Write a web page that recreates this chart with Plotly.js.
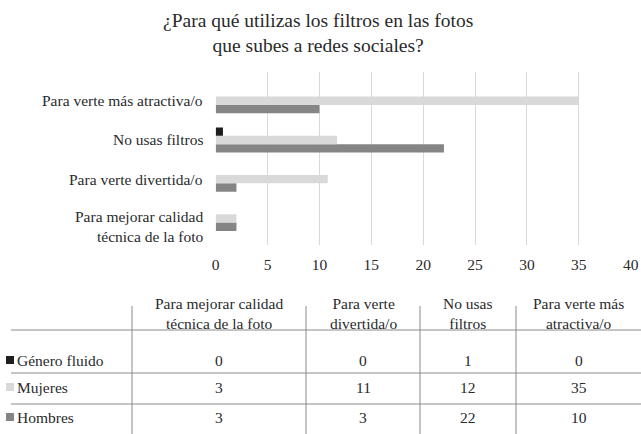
<!DOCTYPE html>
<html>
<head>
<meta charset="utf-8">
<script src="https://cdn.plot.ly/plotly-3.0.1.min.js"></script>
<style>html,body{margin:0;padding:0;background:#fff;}#chart{width:641px;height:434px;}</style>
</head>
<body>
<div id="chart"></div>
<script>
// ---- data ----
const categories = ["Para mejorar calidad técnica de la foto", "Para verte divertida/o", "No usas filtros", "Para verte más atractiva/o"];
const axisLabels = ["Para mejorar calidad<br>técnica de la foto", "Para verte divertida/o", "No usas filtros", "Para verte más atractiva/o"];
const tableHeaders = ["Para mejorar calidad<br>técnica de la foto", "Para verte<br>divertida/o", "No usas<br>filtros", "Para verte más<br>atractiva/o"];
const seriesNames = ["Género fluido", "Mujeres", "Hombres"];
const chartTitle = "¿Para qué utilizas los filtros en las fotos<br>que subes a redes sociales?";
// bar lengths as drawn in the picture
const barGeneroFluido = [0, 0, 0.7, 0];
const barMujeres = [2, 10.8, 11.7, 35];
const barHombres = [2, 2, 22, 10];
// values printed in the data table
const tableGeneroFluido = [0, 0, 1, 0];
const tableMujeres = [3, 11, 12, 35];
const tableHombres = [3, 3, 22, 10];
const xTicks = [0, 5, 10, 15, 20, 25, 30, 35, 40];

// ---- style ----
const W = 641, H = 434;
const colors = {"Género fluido": "#1e1e1e", "Mujeres": "#d9d9d9", "Hombres": "#858585"};
const font = "Liberation Serif";
const textColor = "#2a2a2a";
const FS = 15.5;
const px = x => x / W;
const py = y => 1 - y / H;

const barSeries = [["Hombres", barHombres], ["Mujeres", barMujeres], ["Género fluido", barGeneroFluido]];
const traces = barSeries.map(([name, vals]) => ({
  type: "bar", orientation: "h", name: name,
  y: categories, x: vals,
  marker: {color: colors[name]},
  hoverinfo: "none", showlegend: false
}));

const shapes = [];
const annotations = [];
// title
annotations.push({xref: "paper", yref: "paper", x: px(318), y: py(33), text: chartTitle,
  showarrow: false, xanchor: "center", yanchor: "middle",
  font: {family: font, size: 19.5, color: textColor}});
// category labels (extra lines hang below the tick, as in the original)
categories.forEach((c, i) => {
  const nLines = axisLabels[i].split("<br>").length;
  annotations.push({xref: "paper", yref: "y", x: px(205), y: c, text: axisLabels[i],
    showarrow: false, xanchor: "right", yanchor: "middle", align: "right",
    yshift: -(nLines - 1) * 8.5,
    font: {family: font, size: FS, color: textColor}});
});
// table
const colCenters = [219, 363, 468, 578.5];
const colLines = [132, 306, 420, 516];
colLines.forEach(x => shapes.push({type: "line", xref: "paper", yref: "paper",
  x0: px(x), x1: px(x), y0: py(306), y1: py(434), line: {color: "#8a8a8a", width: 1}}));
[330, 373, 404].forEach(y => shapes.push({type: "line", xref: "paper", yref: "paper",
  x0: px(11), x1: px(641), y0: py(y), y1: py(y), line: {color: "#8a8a8a", width: 1}}));
tableHeaders.forEach((t, i) => annotations.push({xref: "paper", yref: "paper",
  x: px(colCenters[i]), y: py(313), text: t, showarrow: false, xanchor: "center", yanchor: "middle",
  font: {family: font, size: FS, color: textColor}}));
const tableRows = [["Género fluido", tableGeneroFluido, 360], ["Mujeres", tableMujeres, 387], ["Hombres", tableHombres, 417]];
tableRows.forEach(([name, vals, y]) => {
  shapes.push({type: "rect", xref: "paper", yref: "paper",
    x0: px(6), x1: px(14), y0: py(y + 4), y1: py(y - 4),
    fillcolor: colors[name], line: {width: 0}});
  annotations.push({xref: "paper", yref: "paper", x: px(15), y: py(y), text: name,
    showarrow: false, xanchor: "left", yanchor: "middle",
    font: {family: font, size: FS, color: textColor}});
  vals.forEach((v, i) => annotations.push({xref: "paper", yref: "paper",
    x: px(colCenters[i]), y: py(y), text: String(v), showarrow: false,
    xanchor: "center", yanchor: "middle",
    font: {family: font, size: FS, color: textColor}}));
});

const layout = {
  width: W, height: H,
  margin: {l: 0, r: 0, t: 0, b: 0},
  paper_bgcolor: "#ffffff", plot_bgcolor: "#ffffff",
  font: {family: font, size: FS, color: textColor},
  barmode: "group", bargap: 0.36, bargroupgap: 0,
  xaxis: {domain: [px(215.7), px(630.7)], range: [0, 40], tickvals: xTicks,
    showgrid: true, gridcolor: "#d9d9d9", gridwidth: 1, zeroline: false,
    showline: false, ticks: "", ticklabelstandoff: 8, anchor: "y",
    tickfont: {family: font, size: FS, color: textColor}},
  yaxis: {domain: [py(245), py(72)], type: "category", range: [-0.68, 3.735],
    categoryarray: categories, showticklabels: false,
    showgrid: false, zeroline: false, showline: false, ticks: ""},
  shapes: shapes, annotations: annotations
};

Plotly.newPlot("chart", traces, layout, {staticPlot: true, displayModeBar: false});
</script>
</body>
</html>
